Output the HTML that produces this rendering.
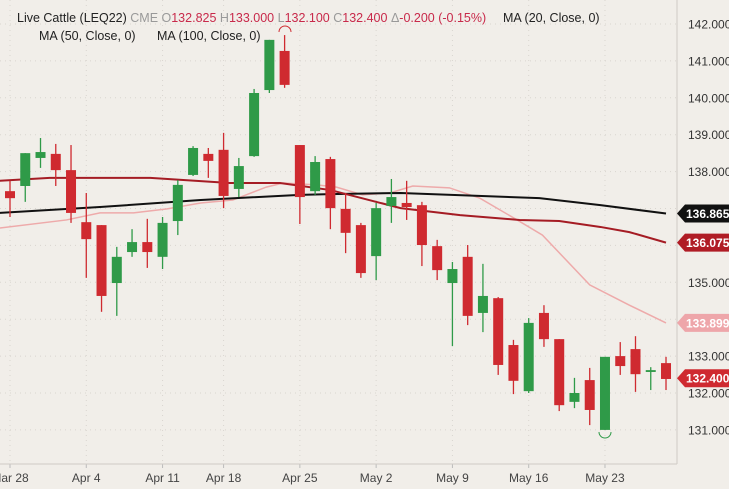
<!DOCTYPE html>
<html><head><meta charset="utf-8"><style>
body{margin:0;background:#f1eee9;}
svg{display:block;font-family:"Liberation Sans",sans-serif;}
</style></head><body>
<svg id="c" width="733" height="489">
<rect x="0" y="0" width="733" height="489" fill="#f1eee9"/>
<g id="grid"></g><g id="ma"></g><g id="candles"></g><g id="axes"></g>
<g font-size="12.5">
<text x="17" y="22" fill="#222">Live Cattle (LEQ22) <tspan fill="#999">CME </tspan><tspan fill="#999">O</tspan><tspan fill="#c8294a">132.825 </tspan><tspan fill="#999">H</tspan><tspan fill="#c8294a">133.000 </tspan><tspan fill="#999">L</tspan><tspan fill="#c8294a">132.100 </tspan><tspan fill="#999">C</tspan><tspan fill="#c8294a">132.400 </tspan><tspan fill="#999">Δ</tspan><tspan fill="#c8294a">-0.200 (-0.15%)</tspan></text>
<text x="503" y="22" fill="#222">MA (20, Close, 0)</text>
<text x="39" y="40" fill="#222">MA (50, Close, 0)</text>
<text x="157" y="40" fill="#222">MA (100, Close, 0)</text>
</g>
</svg>
<script>
const opens =[137.47,137.61,138.37,138.48,138.04,136.63,136.55,134.98,135.82,136.09,135.69,136.66,137.91,138.48,138.59,137.53,138.42,140.21,141.27,138.72,137.47,138.34,136.99,136.55,135.71,137.07,137.15,137.09,135.98,134.98,135.69,134.17,134.57,133.30,132.05,134.17,133.46,131.76,132.35,131.00,133.00,133.19,132.57,132.81];
const highs =[137.75,138.50,138.91,138.75,138.72,137.42,136.55,135.96,136.44,136.72,136.77,137.77,138.69,138.64,139.05,138.37,140.24,141.57,141.70,138.72,138.42,138.40,137.42,136.61,137.15,137.80,137.75,137.18,136.15,135.55,136.01,135.50,134.60,133.44,134.03,134.38,133.46,132.41,132.68,132.98,133.38,133.54,132.70,132.98];
const lows  =[136.77,137.18,138.10,137.61,136.61,135.12,134.20,134.09,135.69,135.39,135.36,136.28,137.88,137.83,137.01,137.31,138.40,140.13,140.27,136.58,137.37,136.44,135.79,135.12,135.06,136.61,136.69,135.44,135.06,133.27,133.84,133.65,132.49,131.97,132.00,133.25,131.51,131.59,131.13,131.00,132.49,132.03,132.08,132.08];
const closes=[137.28,138.50,138.53,138.04,136.88,136.17,134.63,135.69,136.09,135.82,136.61,137.64,138.64,138.29,137.34,138.15,140.13,141.57,140.35,137.31,138.26,137.01,136.34,135.25,137.01,137.31,137.04,136.01,135.33,135.36,134.09,134.63,132.76,132.33,133.90,133.46,131.67,132.00,131.54,132.98,132.73,132.51,132.62,132.38];
const ma100Idx=[-0.7,5.9,12.5,19,21,25.6,34.7,38.7,43];
const ma100Val=[136.88,137.04,137.23,137.37,137.39,137.42,137.28,137.09,136.865];
const ma50Idx=[-0.7,2.6,9.2,14.4,17.7,21,25.6,29.5,33.4,36,38.7,40.6,43];
const ma50Val=[137.75,137.83,137.83,137.69,137.69,137.50,137.01,136.82,136.69,136.66,136.50,136.36,136.075];
const ma20Idx=[-0.7,3.7,5.9,8.1,10.3,12.5,14.6,16.8,17.9,20.1,21.4,23.1,24.9,26.4,28.8,30.8,33.2,34.9,38,40.6,43];
const ma20Val=[136.47,136.69,136.88,136.88,136.99,137.15,137.23,137.58,137.69,137.64,137.58,137.37,137.42,137.61,137.56,137.28,136.70,136.28,134.93,134.38,133.899];
const yTicks=[142,141,140,139,138,137,136,135,134,133,132,131];
const xLabels=["Mar 28","Apr 4","Apr 11","Apr 18","Apr 25","May 2","May 9","May 16","May 23"];
const xLabelIdx=[0,5,10,14,19,24,29,34,39];
const tagValues=[136.865,136.075,133.899,132.4];

const NS="http://www.w3.org/2000/svg";
function y(v){return 24+(142-v)*36.9;}
function x(i){return 10+i*15.256;}
function mk(tag,attrs,parent){const e=document.createElementNS(NS,tag);for(const k in attrs)e.setAttribute(k,attrs[k]);parent.appendChild(e);return e;}
const grid=document.getElementById('grid'),ma=document.getElementById('ma'),cg=document.getElementById('candles'),ax=document.getElementById('axes');
yTicks.forEach(t=>{
  const l=mk('line',{x1:0,x2:677,y1:y(t),y2:y(t),stroke:'#d9d5cf','stroke-dasharray':'1 4'},grid);
  
  
  if(tagValues.some(v=>Math.abs(y(v)-y(t))<10))return;
  const tx=mk('text',{x:688,y:y(t)+4.5,'font-size':'12',fill:'#333'},ax);
  tx.textContent=t.toFixed(3);
  
  
});
xLabels.forEach((lab,k)=>{
  const xx=x(xLabelIdx[k]);
  const l=mk('line',{x1:xx,x2:xx,y1:0,y2:464,stroke:'#d9d5cf','stroke-dasharray':'1 4'},grid);
  
  
  const tk=mk('line',{x1:xx,x2:xx,y1:464,y2:468,stroke:'#bbb'},ax);
  
  
  const tx=mk('text',{x:xx,y:482,'font-size':'12',fill:'#444','text-anchor':'middle'},ax);
  tx.textContent=lab;
  
  
});
const bl=mk('line',{x1:0,x2:677,y1:464,y2:464,stroke:'#cfcbc5'},ax);


const rl=mk('line',{x1:677,x2:677,y1:0,y2:464,stroke:'#cfcbc5'},ax);


const rs=mk('rect',{x:729,y:0,width:4,height:489,fill:'#fff'},ax);


function line(idx,val,color,w,name){
  const p=mk('polyline',{points:idx.map((i,k)=>x(i)+','+y(val[k])).join(' '),fill:'none',stroke:color,'stroke-width':w},ma);
  
  
}
line(ma20Idx,ma20Val,'#eeaaaa',1.5,'ma20-line');
line(ma100Idx,ma100Val,'#111',2,'ma100-line');
line(ma50Idx,ma50Val,'#a51c24',2,'ma50-line');
opens.forEach((o,i)=>{
  const c=closes[i],up=c>=o,col=up?'#2f9a48':'#cf2a30',xx=x(i);
  const g=mk('g',{},cg);
  
  
  mk('line',{x1:xx,x2:xx,y1:y(highs[i]),y2:y(lows[i]),stroke:col,'stroke-width':1.3},g);
  const top=y(Math.max(o,c)),h=Math.max(1.5,Math.abs(y(o)-y(c)));
  mk('rect',{x:xx-5,y:top,width:10,height:h,fill:col},g);
});
[[18,'M279,32 A6,6 0 0 1 291,32'],[39,'M599,432 A6,6 0 0 0 611,432']].forEach(a=>{
  const p=mk('path',{d:a[1],fill:'none',stroke:a[0]==18?'#cf2a30':'#2f9a48','stroke-width':1},cg);
  
  
});
const tagCols=['#111','#b01c25','#eea6aa','#cf2a30'];
const tagNames=['ma100-price-tag','ma50-price-tag','ma20-price-tag','last-price-tag'];
tagValues.forEach((v,k)=>{
  const yy=y(v);
  const g=mk('g',{},ax);
  
  
  mk('path',{d:`M677,${yy} L685,${yy-9} L729,${yy-9} L729,${yy+9} L685,${yy+9} Z`,fill:tagCols[k]},g);
  const t=mk('text',{x:686,y:yy+4.5,'font-size':'12',fill:'#fff','font-weight':'bold'},g);
  t.textContent=v.toFixed(3);
});
</script>
</body></html>
